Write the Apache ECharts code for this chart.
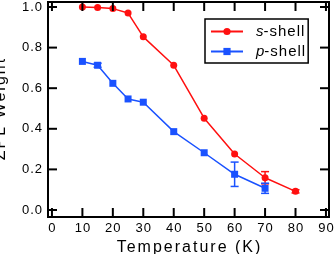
<!DOCTYPE html>
<html><head><meta charset="utf-8">
<script src="https://cdn.jsdelivr.net/npm/echarts@6/dist/echarts.min.js"></script>
<style>
html,body{margin:0;padding:0;background:#fff;}
#c{width:336px;height:254px;}
</style>
</head><body><div id="c"></div>
<script>
const tempsS = [10, 15, 20, 25, 30, 40, 50, 60, 70, 80];
const sShell = [1.0, 0.997, 0.992, 0.97, 0.853, 0.713, 0.452, 0.276, 0.159, 0.092];
const sErr   = [0, 0, 0, 0, 0, 0, 0, 0, 0.03, 0.008];
const tempsP = [10, 15, 20, 25, 30, 40, 50, 60, 70];
const pShell = [0.732, 0.713, 0.624, 0.547, 0.531, 0.386, 0.282, 0.176, 0.107];
const pErr   = [0, 0.01, 0, 0, 0, 0, 0, 0.06, 0.025];
const xTicks = [0, 10, 20, 30, 40, 50, 60, 70, 80, 90];
const yTicks = [0, 0.2, 0.4, 0.6, 0.8, 1.0];

const X_MIN = -1.3, X_MAX = 91, Y_MIN = -0.0345, Y_MAX = 1.0246;
const RED = '#ff1010', BLUE = '#1a52ff';
const FONT = '"Liberation Sans", Arial, sans-serif';

// wider letter tracking, as in the reference
(function () {
  const P = CanvasRenderingContext2D.prototype;
  const orig = P.fillText;
  P.fillText = function (t, x, y, mw) {
    const m = /(\d+)px/.exec(this.font);
    const s = m && +m[1] >= 16 ? 2 : 1;
    this.letterSpacing = s + 'px';
    if (this.textAlign === 'right' || this.textAlign === 'end') x += s;
    else if (this.textAlign === 'center') x += s / 2;
    const r = mw === undefined ? orig.call(this, t, x, y) : orig.call(this, t, x, y, mw);
    this.letterSpacing = '0px';
    return r;
  };
})();

const chart = echarts.init(document.getElementById('c'), null, {renderer: 'canvas'});

function errItem(color) {
  return function (params, api) {
    const x = api.value(0), y = api.value(1), e = api.value(2);
    const t = api.coord([x, y + e]), b = api.coord([x, y - e]);
    const w = e ? 4 : 0;
    const st = {stroke: e ? color : 'rgba(0,0,0,0)', lineWidth: 1.5};
    return {type: 'group', children: [
      {type: 'line', shape: {x1: t[0], y1: t[1], x2: b[0], y2: b[1]}, style: st},
      {type: 'line', shape: {x1: t[0] - w, y1: t[1], x2: t[0] + w, y2: t[1]}, style: st},
      {type: 'line', shape: {x1: b[0] - w, y1: b[1], x2: b[0] + w, y2: b[1]}, style: st}
    ]};
  };
}

chart.setOption({
  animation: false,
  grid: {left: 48, right: 7, top: 2, bottom: 37, outerBoundsMode: 'none', containLabel: false},
  legend: {
    left: 205, top: 19, orient: 'vertical',
    itemWidth: 32, itemHeight: 9, itemGap: 5,
    padding: [5, 8, 4, 5],
    borderColor: '#000', borderWidth: 1.5, backgroundColor: '#fff',
    textStyle: {fontSize: 15, color: '#000', fontFamily: FONT, padding: [0, 0, 0, 8],
      rich: {i: {fontStyle: 'italic', fontSize: 15, fontFamily: FONT}}},
    formatter: (n) => n === 's-shell' ? '{i|s}-shell' : '{i|p}-shell',
    data: ['s-shell', 'p-shell']
  },
  xAxis: {
    type: 'value', min: X_MIN, max: X_MAX, position: 'bottom',
    axisLine: {show: false, onZero: false}, splitLine: {show: false}, axisTick: {show: false},
    axisLabel: {customValues: xTicks, fontSize: 13, color: '#000', margin: 5, fontFamily: FONT},
    name: 'Temperature (K)', nameLocation: 'middle', nameGap: 15,
    nameTextStyle: {fontSize: 16, color: '#000', fontFamily: FONT}
  },
  yAxis: {
    type: 'value', min: Y_MIN, max: Y_MAX, position: 'left',
    axisLine: {show: false, onZero: false}, splitLine: {show: false}, axisTick: {show: false},
    axisLabel: {customValues: yTicks, fontSize: 13, color: '#000', margin: 6, fontFamily: FONT,
      formatter: (v) => v.toFixed(1)},
    name: 'ZPL Weight', nameLocation: 'middle', nameGap: 39,
    nameTextStyle: {fontSize: 16, color: '#000', fontFamily: FONT}
  },
  series: [
    {name: 's-shell', type: 'line', data: tempsS.map((t, i) => [t, sShell[i]]),
     symbol: 'circle', symbolSize: 7, lineStyle: {color: RED, width: 1.5}, itemStyle: {color: RED}, z: 3},
    {name: 'p-shell', type: 'line', data: tempsP.map((t, i) => [t, pShell[i]]),
     symbol: 'rect', symbolSize: 7, lineStyle: {color: BLUE, width: 1.5}, itemStyle: {color: BLUE}, z: 3},
    {type: 'custom', data: tempsS.map((t, i) => [t, sShell[i], sErr[i]]), renderItem: errItem(RED), z: 4},
    {type: 'custom', data: tempsP.map((t, i) => [t, pShell[i], pErr[i]]), renderItem: errItem(BLUE), z: 4}
  ]
});

// frame and inward ticks on all four sides, placed through the chart's own scales
(function () {
  const px = (x, y) => chart.convertToPixel({gridIndex: 0}, [x, y]);
  const tl = px(X_MIN, Y_MAX), br = px(X_MAX, Y_MIN);
  const L = 9, st = {stroke: '#000', lineWidth: 2, fill: null};
  const els = [{type: 'rect', z: 100, silent: true,
    shape: {x: tl[0], y: tl[1], width: br[0] - tl[0], height: br[1] - tl[1]}, style: st}];
  xTicks.forEach(v => {
    const x = px(v, 0.5)[0];
    els.push({type: 'line', z: 100, silent: true, shape: {x1: x, y1: br[1], x2: x, y2: br[1] - L}, style: st});
    els.push({type: 'line', z: 100, silent: true, shape: {x1: x, y1: tl[1], x2: x, y2: tl[1] + L}, style: st});
  });
  yTicks.forEach(v => {
    const y = px(45, v)[1];
    els.push({type: 'line', z: 100, silent: true, shape: {x1: tl[0], y1: y, x2: tl[0] + L, y2: y}, style: st});
    els.push({type: 'line', z: 100, silent: true, shape: {x1: br[0], y1: y, x2: br[0] - L, y2: y}, style: st});
  });
  chart.setOption({graphic: {elements: els}});
})();
</script>
</body></html>
